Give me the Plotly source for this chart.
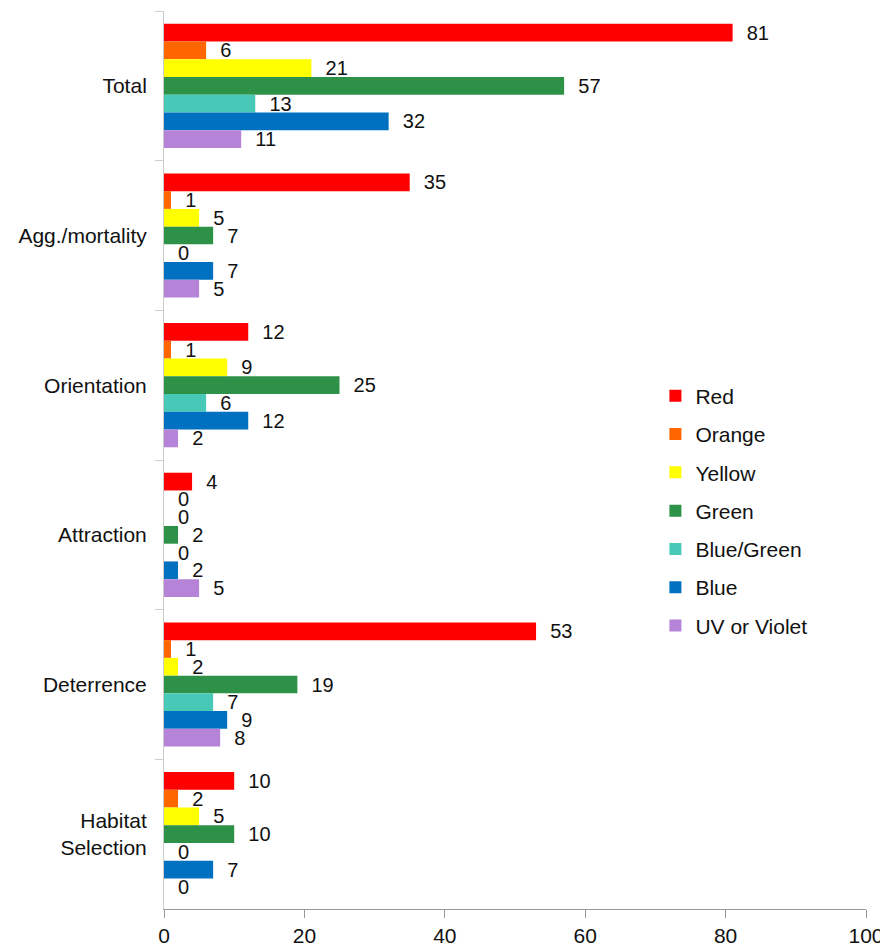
import plotly.graph_objects as go

categories = ["Total", "Agg./mortality", "Orientation", "Attraction", "Deterrence", "Habitat<br>Selection"]
series_names = ["Red", "Orange", "Yellow", "Green", "Blue/Green", "Blue", "UV or Violet"]
colors = ["#FF0000", "#FF6600", "#FFFF00", "#2E9148", "#48C9B8", "#0070C0", "#B584D8"]

red = [81, 35, 12, 4, 53, 10]
orange = [6, 1, 1, 0, 1, 2]
yellow = [21, 5, 9, 0, 2, 5]
green = [57, 7, 25, 2, 19, 10]
blue_green = [13, 0, 6, 0, 7, 0]
blue = [32, 7, 12, 2, 9, 7]
violet = [11, 5, 2, 5, 8, 0]

values = [red, orange, yellow, green, blue_green, blue, violet]

FONT = "Liberation Sans, Arial, sans-serif"

fig = go.Figure()
for name, color, vals in zip(series_names, colors, values):
    fig.add_trace(go.Bar(
        y=categories, x=vals, name=name, orientation="h",
        marker=dict(color=color, line=dict(width=0)),
        text=vals, texttemplate="\u00a0\u00a0%{x}", textposition="outside",
        constraintext="none",
        textfont=dict(size=20, color="#111111", family=FONT),
        cliponaxis=False, legendgroup=name,
    ))

# page body has an 8px default margin, so the figure is sized to fit the 888x948 window
fig.update_layout(
    width=880, height=940,
    margin=dict(l=156, r=22, t=3, b=39, autoexpand=False),
    paper_bgcolor="white", plot_bgcolor="white",
    barmode="group", bargap=0.17, bargroupgap=0,
    font=dict(family=FONT, size=21, color="#111111"),
    showlegend=True,
    legend=dict(x=0.700, y=0.594, xanchor="left", yanchor="top",
                font=dict(size=21), tracegroupgap=8, itemwidth=30,
                bgcolor="rgba(0,0,0,0)"),
)
fig.update_xaxes(range=[0, 100], tickvals=[0, 20, 40, 60, 80, 100], showgrid=False, zeroline=False,
                 showline=True, linecolor="#999999", linewidth=1,
                 ticks="outside", ticklen=8, tickcolor="#999999",
                 tickfont=dict(size=21), automargin=False)
fig.update_yaxes(categoryorder="array", categoryarray=categories, autorange="reversed",
                 showgrid=False, zeroline=False, showline=True, linecolor="#cccccc", linewidth=1,
                 ticks="outside", tickson="boundaries", ticklen=8, tickcolor="#cccccc",
                 tickfont=dict(size=21), ticklabelstandoff=12, automargin=False)

fig.write_html("out.html")
